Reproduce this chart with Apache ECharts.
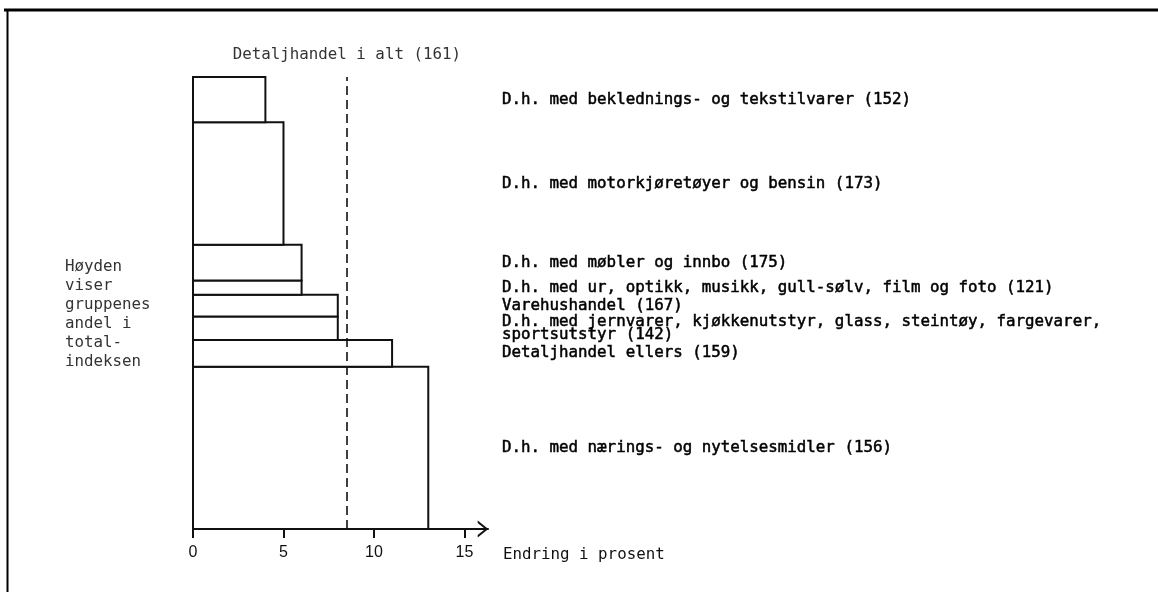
<!DOCTYPE html>
<html>
<head>
<meta charset="utf-8">
<script src="https://cdn.jsdelivr.net/npm/echarts@6/dist/echarts.min.js"></script>
<style>
  html, body { margin: 0; padding: 0; background: #fff; }
  #chart { width: 1158px; height: 592px; }
</style>
</head>
<body>
<div id="chart"></div>
<script>
// ---- Data (bottom to top) ----
const categories = [
  'D.h. med nærings- og nytelsesmidler (156)',
  'Detaljhandel ellers (159)',
  'D.h. med jernvarer, kjøkkenutstyr, glass, steintøy, fargevarer,\nsportsutstyr (142)',
  'Varehushandel (167)',
  'D.h. med ur, optikk, musikk, gull-sølv, film og foto (121)',
  'D.h. med møbler og innbo (175)',
  'D.h. med motorkjøretøyer og bensin (173)',
  'D.h. med beklednings- og tekstilvarer (152)'
];
// Change in percent (bar length)
const changes = [13, 11, 8, 8, 6, 6, 5, 4];
// Share of total index (bar height)
const shares = [35.9, 5.9, 5.2, 4.8, 3.2, 7.9, 27.1, 10.0];
// Total retail change (dashed line)
const totalChange = 8.5;
const totalLabel = 'Detaljhandel i alt (161)';
const xTicks = [0, 5, 10, 15];
const xAxisName = 'Endring i prosent';
const noteText = 'Høyden\nviser\ngruppenes\nandel i\ntotal-\nindeksen';

// Build data: [change, yStart, yEnd, index]
const barData = [];
let acc = 0;
for (let i = 0; i < categories.length; i++) {
  barData.push([changes[i], acc, acc + shares[i], i]);
  acc += shares[i];
}

const MONO = '"DejaVu Sans Mono", "Liberation Mono", monospace';

const chart = echarts.init(document.getElementById('chart'), null, { renderer: 'canvas' });

const option = {
  backgroundColor: '#fff',
  animation: false,
  grid: { left: 193, right: 670, top: 77, bottom: 63 },
  xAxis: {
    type: 'value',
    min: 0,
    max: 16.3,
    interval: 5,
    splitLine: { show: false },
    axisLine: {
      show: true,
      lineStyle: { color: '#111', width: 2 },
      symbol: ['none', 'path://M0,10 L8,0 L16,10 L13.6,10 L8,3 L2.4,10 Z'],
      symbolSize: [17, 11],
      symbolOffset: [0, -5]
    },
    axisTick: {
      show: true, inside: false, length: 9,
      lineStyle: { color: '#111', width: 2 },
      customValues: xTicks
    },
    axisLabel: {
      customValues: xTicks,
      margin: 16,
      color: '#111',
      fontFamily: '"Liberation Sans", Arial, sans-serif',
      fontSize: 16
    },
    name: xAxisName,
    nameLocation: 'end',
    nameGap: 15,
    nameTextStyle: {
      fontFamily: MONO, fontSize: 15.8, color: '#111',
      align: 'left', verticalAlign: 'top', padding: [18, 0, 0, 0]
    }
  },
  yAxis: {
    type: 'value', min: 0, max: 100, show: false
  },
  title: {
    text: noteText,
    left: 60,
    top: 252,
    textStyle: {
      fontFamily: MONO, fontSize: 15.8, fontWeight: 'normal',
      color: '#333', lineHeight: 19
    }
  },
  graphic: [
    { type: 'line', shape: { x1: 4, y1: 10, x2: 1158, y2: 10 }, style: { stroke: '#000', lineWidth: 3 } },
    { type: 'line', shape: { x1: 7.5, y1: 10, x2: 7.5, y2: 592 }, style: { stroke: '#000', lineWidth: 2 } }
  ],
  series: [
    {
      type: 'custom',
      data: barData,
      renderItem: function (params, api) {
        const v = api.value(0), y0 = api.value(1), y1 = api.value(2);
        const idx = api.value(3);
        const p0 = api.coord([0, y1]);
        const p1 = api.coord([v, y0]);
        const cs = params.coordSys;
        return {
          type: 'group',
          children: [
            {
              type: 'rect',
              shape: { x: p0[0], y: p0[1], width: p1[0] - p0[0], height: p1[1] - p0[1] },
              style: { fill: '#fff', stroke: '#111', lineWidth: 2 }
            },
            {
              type: 'text',
              style: {
                x: cs.x + cs.width + 14,
                y: (p0[1] + p1[1]) / 2,
                text: categories[idx],
                fill: '#000',
                stroke: '#000',
                lineWidth: 0.5,
                font: '15.8px ' + MONO,
                verticalAlign: 'middle',
                align: 'left',
                lineHeight: 13
              }
            }
          ]
        };
      },
      z: 2
    },
    {
      type: 'line',
      data: [],
      z: 3,
      markLine: {
        silent: true,
        symbol: ['none', 'none'],
        lineStyle: { color: '#111', type: [9, 5], width: 1.6 },
        label: {
          show: true,
          position: 'end',
          distance: 14,
          formatter: totalLabel,
          fontFamily: MONO,
          fontSize: 15.8,
          color: '#333'
        },
        data: [{ xAxis: totalChange }]
      }
    }
  ]
};

chart.setOption(option);
</script>
</body>
</html>
